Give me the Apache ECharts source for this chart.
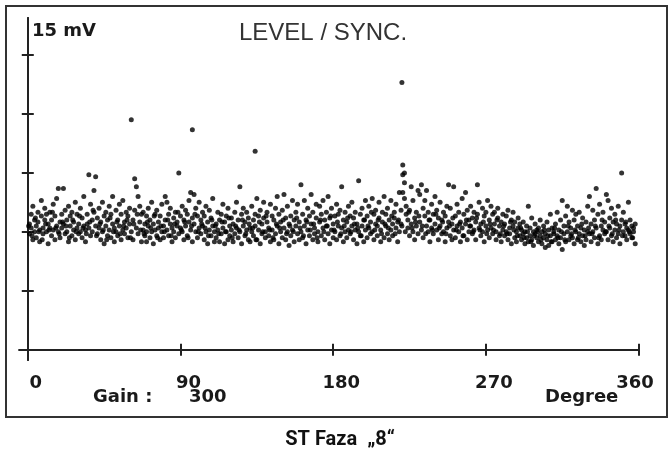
<!DOCTYPE html>
<html><head><meta charset="utf-8">
<script src="https://cdn.jsdelivr.net/npm/echarts@6/dist/echarts.min.js"></script>
<style>html,body{margin:0;padding:0;background:#fff}#c{width:672px;height:455px}</style>
</head><body><div id="c"></div>
<script>
// tick positions
const xTickValues = [0, 90, 180, 270, 360];
const yTickValues = [3, 6, 9, 12, 15];
// pulses: [phase in degrees, level in mV]
const quadrant1 = [
[1,6.4],[1,5.9],[2,6.9],[2,6.2],[3,5.6],[3,7.3],[4,6.6],[4,6.0],[5,6.3],[5,5.7],[6,7.0],[6,6.5],[7,6.1],[7,5.5],[8,6.8],[8,7.6],[9,6.2],[9,5.9],[10,6.6],[10,7.2],
[11,6.0],[11,6.9],[12,5.4],[12,6.4],[13,7.0],[13,6.2],[14,5.8],[14,6.6],[15,7.4],[15,6.1],[16,5.6],[16,6.8],[17,6.3],[17,7.7],[18,8.2],[18,6.0],[19,6.5],[19,5.7],[20,6.9],[20,6.2],
[21,8.2],[21,6.4],[22,5.9],[22,7.1],[23,6.6],[23,6.0],[24,7.3],[24,5.5],[25,6.3],[25,6.8],[26,5.8],[26,7.0],[27,6.1],[27,6.5],[28,5.6],[28,7.5],[29,6.2],[29,6.9],[30,5.9],[30,6.4],
[31,7.2],[31,6.0],[32,6.7],[32,5.7],[33,6.3],[33,7.8],[34,6.1],[34,5.5],[35,6.9],[35,6.4],[36,8.9],[36,6.2],[37,7.4],[37,5.8],[38,6.6],[38,6.0],[39,7.0],[39,8.1],[40,8.8],[40,6.3],
[41,6.7],[41,5.9],[42,7.2],[42,6.2],[43,5.6],[43,6.5],[44,7.5],[44,6.0],[45,6.8],[45,5.4],[46,6.3],[46,7.0],[47,5.8],[47,6.6],[48,7.3],[48,6.1],[49,5.7],[49,6.9],[50,6.4],[50,7.8],
[51,6.2],[51,5.5],[52,7.1],[52,6.0],[53,6.6],[53,5.8],[54,7.4],[54,6.3],[55,6.9],[55,5.6],[56,6.1],[56,7.6],[57,6.5],[57,5.9],[58,7.0],[58,6.2],[59,5.7],[59,6.8],[60,6.4],[60,7.2],
[61,11.7],[61,6.0],[62,6.6],[62,5.6],[63,8.7],[63,7.1],[64,8.3],[64,6.2],[65,7.8],[65,5.9],[66,7.3],[66,6.5],[67,6.9],[67,5.5],[68,6.1],[68,7.0],[69,5.8],[69,6.4],[70,6.8],[70,6.0],[70,5.5],
[71,6.3],[71,7.2],[72,5.7],[72,6.6],[73,6.0],[73,7.5],[74,6.4],[74,5.4],[75,6.9],[75,6.1],[76,5.8],[76,7.1],[77,6.5],[77,6.2],[78,5.6],[78,6.8],[79,7.4],[79,6.0],[80,6.3],[80,5.7],
[81,7.8],[81,6.6],[82,6.1],[82,7.5],[83,5.8],[83,6.9],[84,6.4],[84,7.2],[85,5.5],[85,6.2],[86,6.7],[86,6.0],[87,7.0],[87,5.7],[88,6.3],[88,6.5],[89,9.0],[89,5.9],[90,6.8],[90,6.2]
];
const quadrant2 = [
[91,7.3],[91,6.0],[92,5.6],[92,6.6],[93,7.1],[93,6.3],[94,5.8],[94,6.9],[95,6.5],[95,7.6],[96,8.0],[96,6.1],[97,11.2],[97,6.7],[97,5.5],[98,7.9],[98,6.4],[99,6.0],[99,7.2],[100,5.7],[100,6.8],
[101,7.5],[101,6.2],[102,6.6],[102,5.9],[103,7.0],[103,6.3],[104,5.6],[104,6.8],[105,7.3],[105,6.0],[106,5.4],[106,6.5],[107,7.1],[107,6.1],[108,5.8],[108,6.7],[109,6.3],[109,7.7],[110,5.5],[110,6.0],
[111,6.4],[111,5.7],[112,7.0],[112,6.1],[113,5.5],[113,6.6],[114,6.9],[114,5.9],[115,6.2],[115,7.4],[116,5.4],[116,6.5],[117,6.0],[117,6.8],[118,5.6],[118,7.2],[119,6.3],[119,5.8],[120,6.7],[120,6.1],
[121,5.5],[121,6.4],[122,7.0],[122,5.9],[123,6.2],[123,7.5],[124,5.7],[124,6.6],[125,8.3],[125,6.0],[126,6.9],[126,5.4],[127,6.3],[127,7.2],[128,5.8],[128,6.5],[129,6.1],[129,7.0],[130,5.6],[130,6.7],
[131,6.2],[131,5.5],[132,7.3],[132,6.0],[133,6.6],[133,5.8],[134,10.1],[134,6.9],[134,6.3],[135,7.7],[135,5.6],[136,6.1],[136,6.8],[137,5.4],[137,7.1],[138,6.4],[138,5.9],[139,6.7],[139,7.5],[140,6.0],[140,5.7],
[141,6.5],[141,7.0],[142,5.8],[142,6.2],[143,7.4],[143,5.5],[144,6.8],[144,6.1],[145,5.6],[145,6.6],[146,7.2],[146,5.9],[147,6.3],[147,7.8],[148,5.4],[148,6.9],[149,6.0],[149,6.5],[150,7.1],[150,5.7],
[151,6.2],[151,7.9],[152,5.6],[152,6.7],[153,6.0],[153,7.3],[154,5.3],[154,6.4],[155,6.8],[155,5.8],[156,7.6],[156,6.1],[157,5.5],[157,6.6],[158,7.0],[158,6.3],[159,5.9],[159,7.4],[160,6.5],[160,5.6],
[161,8.4],[161,6.0],[162,6.9],[162,5.7],[163,7.6],[163,6.3],[164,5.4],[164,6.6],[165,7.2],[165,6.1],[166,5.8],[166,6.8],[167,7.9],[167,6.4],[168,5.6],[168,7.0],[169,6.2],[169,5.9],[170,6.7],[170,7.4],
[171,6.0],[171,5.5],[172,7.3],[172,6.5],[173,5.8],[173,6.9],[174,6.2],[174,7.6],[175,5.6],[175,6.6],[176,7.0],[176,6.3],[177,5.9],[177,7.8],[178,6.7],[178,5.4],[179,6.1],[179,7.2],[180,6.4],[180,5.7]
];
const quadrant3 = [
[181,6.8],[181,6.0],[182,7.4],[182,5.6],[183,6.3],[183,6.9],[184,5.8],[184,7.1],[185,8.3],[185,6.2],[186,5.5],[186,6.6],[187,7.0],[187,6.0],[188,5.7],[188,6.5],[189,7.3],[189,6.1],[190,5.9],[190,6.8],
[191,6.3],[191,7.5],[192,5.6],[192,6.7],[193,6.1],[193,7.0],[194,5.4],[194,6.4],[195,8.6],[195,6.0],[196,6.9],[196,5.8],[197,7.2],[197,6.3],[198,5.5],[198,6.6],[199,7.6],[199,6.1],[200,5.7],[200,6.8],
[201,6.2],[201,7.3],[202,5.9],[202,6.5],[203,7.7],[203,6.0],[204,5.6],[204,6.9],[205,6.4],[205,7.1],[206,5.8],[206,6.3],[207,7.5],[207,6.7],[208,5.5],[208,6.1],[209,7.0],[209,6.5],[210,5.7],[210,7.8],
[211,6.3],[211,6.9],[212,5.9],[212,7.2],[213,6.6],[213,5.6],[214,7.6],[214,6.1],[215,6.4],[215,5.8],[216,7.0],[216,6.7],[217,6.2],[217,7.4],[218,5.5],[218,6.5],[219,8.0],[219,6.0],[220,7.1],[220,6.4],
[220.5,13.6],[221,9.4],[221,8.9],[222,9.0],[222,8.5],[221,8.0],[222,7.7],[223,7.3],[223,6.9],[224,6.6],[224,6.2],[225,5.8],[225,7.1],[226,8.3],[226,6.4],[227,6.0],[227,7.6],[228,6.7],[228,5.6],[229,7.0],[229,6.3],[230,8.1],[230,5.9],
[231,7.9],[231,6.5],[232,8.4],[232,6.1],[233,7.2],[233,5.7],[234,6.8],[234,7.6],[235,6.3],[235,8.1],[236,6.0],[236,7.0],[237,6.6],[237,5.5],[238,7.4],[238,6.2],[239,5.9],[239,6.9],[240,7.8],[240,6.4],
[241,6.1],[241,7.1],[242,5.6],[242,6.7],[243,7.5],[243,6.3],[244,5.9],[244,6.6],[245,7.0],[245,6.0],[246,5.5],[246,6.8],[247,7.3],[247,6.2],[248,8.4],[248,6.5],[249,5.8],[249,7.2],[250,6.4],[250,5.6],
[251,8.3],[251,6.1],[252,6.8],[252,5.7],[253,7.4],[253,6.3],[254,6.0],[254,7.0],[255,5.5],[255,6.5],[256,7.7],[256,6.2],[257,5.8],[257,6.9],[258,8.0],[258,6.4],[259,5.6],[259,7.1],[260,6.6],[260,6.0],
[261,6.3],[261,7.3],[262,5.9],[262,6.7],[263,7.0],[263,6.1],[264,5.6],[264,6.5],[265,8.4],[265,6.9],[266,6.2],[266,7.5],[267,5.8],[267,6.4],[268,7.2],[268,6.0],[269,5.5],[269,6.8],[270,6.3],[270,7.0]
];
const quadrant4 = [
[271,7.6],[271,6.1],[272,5.7],[272,6.6],[273,7.3],[273,6.2],[274,5.9],[274,6.9],[275,7.0],[275,6.4],[276,5.6],[276,6.0],[277,6.7],[277,7.2],[278,5.8],[278,6.3],[279,6.5],[279,5.5],[280,6.9],[280,6.1],
[281,6.4],[281,5.8],[282,6.8],[282,6.0],[283,5.6],[283,7.1],[284,6.2],[284,5.9],[285,6.6],[285,5.4],[286,6.3],[286,7.0],[287,5.7],[287,6.5],[288,6.0],[288,5.5],[289,6.7],[289,6.2],[290,5.8],[290,6.4],
[291,5.6],[291,6.1],[292,5.9],[292,6.5],[293,5.4],[293,6.0],[294,5.7],[294,6.3],[295,7.3],[295,5.5],[296,6.2],[296,5.8],[297,6.7],[297,5.6],[298,6.0],[298,5.3],[299,5.9],[299,6.4],[300,5.7],[300,6.1],
[301,5.5],[301,6.2],[302,5.8],[302,6.6],[303,5.4],[303,6.0],[304,5.7],[304,6.3],[305,5.2],[305,5.9],[306,6.5],[306,5.6],[307,6.1],[307,5.3],[308,5.8],[308,6.9],[309,5.5],[309,6.2],[310,5.9],[310,6.0],
[311,5.6],[311,6.4],[312,5.8],[312,7.0],[313,5.4],[313,6.1],[314,5.7],[314,6.6],[315,7.6],[315,5.1],[316,6.3],[316,5.9],[317,5.5],[317,6.8],[318,7.3],[318,6.0],[319,5.6],[319,6.5],[320,5.8],[320,6.2],
[321,7.1],[321,5.7],[322,6.6],[322,5.4],[323,6.0],[323,6.9],[324,5.6],[324,6.3],[325,5.9],[325,7.0],[326,5.5],[326,6.2],[327,6.7],[327,5.8],[328,5.3],[328,6.1],[329,6.5],[329,5.6],[330,6.0],[330,7.3],
[331,7.8],[331,5.9],[332,6.4],[332,5.5],[333,7.1],[333,6.0],[334,5.7],[334,6.6],[335,8.2],[335,6.2],[336,5.4],[336,6.9],[337,5.8],[337,7.4],[338,6.3],[338,5.6],[339,7.0],[339,6.1],[340,5.9],[340,6.5],
[341,7.9],[341,6.0],[342,7.6],[342,5.6],[343,6.7],[343,6.2],[344,7.2],[344,5.8],[345,6.5],[345,5.5],[346,6.9],[346,6.1],[347,5.7],[347,6.4],[348,7.3],[348,5.9],[349,5.4],[349,6.3],[350,9.0],[350,6.6],
[351,6.0],[351,7.0],[352,5.8],[352,6.4],[353,6.2],[353,5.6],[354,7.5],[354,6.1],[355,5.9],[355,6.6],[356,6.3],[356,5.7],[357,6.2],[357,6.0],[358,5.4],[358,6.4]
];
// additional pulses read in the dense core of the band
const coreBand = [
[0.5,6.3],[2.5,5.8],[4.5,6.7],[6.5,6.0],[8.5,5.6],[10.5,6.4],[12.5,6.1],[14.5,7.0],[16.5,6.2],[18.5,5.9],[20.5,6.5],[22.5,6.3],[24.5,5.7],[26.5,6.6],[28.5,6.0],[30.5,6.8],[32.5,6.2],[34.5,5.9],[36.5,6.5],[38.5,7.1],
[40.5,5.8],[42.5,6.4],[44.5,6.1],[46.5,5.6],[48.5,6.7],[50.5,6.0],[52.5,6.5],[54.5,5.9],[56.5,6.3],[58.5,6.6],[60.5,5.7],[62.5,6.4],[64.5,6.9],[66.5,6.1],[68.5,5.9],[70.5,6.5],[72.5,6.2],[74.5,6.8],[76.5,5.7],[78.5,6.3],
[80.5,6.0],[82.5,6.6],[84.5,5.8],[86.5,6.4],[88.5,7.0],[90.5,6.1],[92.5,6.5],[94.5,5.7],[96.5,6.3],[98.5,6.9],[100.5,6.0],[102.5,6.4],[104.5,6.2],[106.5,5.8],[108.5,6.6],[110.5,6.3],[112.5,5.9],[114.5,6.5],[116.5,6.0],[118.5,6.7],
[120.5,5.7],[122.5,6.3],[124.5,6.1],[126.5,6.6],[128.5,5.9],[130.5,6.4],[132.5,6.2],[134.5,5.6],[136.5,6.5],[138.5,6.0],[140.5,6.8],[142.5,6.1],[144.5,5.7],[146.5,6.4],[148.5,6.2],[150.5,6.6],[152.5,5.9],[154.5,6.3],[156.5,6.0],[158.5,6.7],
[160.5,6.2],[162.5,5.8],[164.5,6.5],[166.5,6.1],[168.5,6.4],[170.5,5.7],[172.5,6.6],[174.5,6.0],[176.5,6.3],[178.5,6.8],[180.5,6.1],[182.5,6.5],[184.5,5.9],[186.5,6.3],[188.5,6.7],[190.5,6.0],[192.5,6.4],[194.5,6.2],[196.5,5.8],[198.5,6.6],
[200.5,6.3],[202.5,7.0],[204.5,6.1],[206.5,6.6],[208.5,5.9],[210.5,6.4],[212.5,6.2],[214.5,6.8],[216.5,5.9],[218.5,6.6],[220.5,6.3],[222.5,6.0],[224.5,7.0],[226.5,6.2],[228.5,6.5],[230.5,6.8],[232.5,6.3],[234.5,5.9],[236.5,6.6],[238.5,6.1],
[240.5,6.9],[242.5,6.2],[244.5,6.5],[246.5,5.9],[248.5,6.3],[250.5,6.7],[252.5,6.1],[254.5,6.4],[256.5,5.8],[258.5,6.6],[260.5,6.3],[262.5,6.0],[264.5,6.7],[266.5,6.1],[268.5,6.5],[270.5,5.9],[272.5,6.4],[274.5,6.1],[276.5,6.6],[278.5,5.9],
[280.5,6.3],[282.5,5.9],[284.5,6.5],[286.5,6.1],[288.5,5.8],[290.5,6.2],[292.5,5.7],[294.5,6.0],[296.5,5.5],[298.5,5.8],[300.5,6.0],[302.5,5.6],[304.5,6.1],[306.5,5.8],[308.5,5.5],[310.5,6.2],[312.5,5.7],[314.5,6.0],[316.5,5.6],[318.5,6.3],
[320.5,5.9],[322.5,6.1],[324.5,5.7],[326.5,6.4],[328.5,5.8],[330.5,6.2],[332.5,5.9],[334.5,6.3],[336.5,5.7],[338.5,6.6],[340.5,6.0],[342.5,6.3],[344.5,5.9],[346.5,6.6],[348.5,6.1],[350.5,5.8],[352.5,6.5],[354.5,6.0],[356.5,5.7]
];

const chart = echarts.init(document.getElementById('c'), null, {renderer: 'canvas'});
const axisColor = '#222';
const boldFont = '"DejaVu Sans", sans-serif';
const xBase = {
  type: 'value', min: -5, max: 360,
  splitLine: {show: false},
  axisLine: {onZero: true, lineStyle: {color: axisColor, width: 2}}
};
const yBase = {
  type: 'value', min: -0.52, max: 16.88,
  splitLine: {show: false},
  axisLabel: {show: false},
  axisLine: {onZero: true, lineStyle: {color: axisColor, width: 2}}
};
const tickStyle = {color: axisColor, width: 2};
chart.setOption({
  animation: false,
  backgroundColor: '#fff',
  grid: {left: 19.3, right: 33.4, top: 18, bottom: 95, outerBoundsMode: 'none'},
  xAxis: [
    Object.assign({}, xBase, {
      position: 'bottom',
      axisTick: {customValues: xTickValues, length: 6, lineStyle: tickStyle},
      axisLabel: {
        customValues: xTickValues, margin: 14,
        formatter: v => v === 360 ? '{b|' + v + '}' : '{a|' + v + '}',
        rich: {
          a: {fontFamily: boldFont, fontWeight: 'bold', fontSize: 18, lineHeight: 18, color: '#1a1a1a', padding: [0, 0, 0, 16]},
          b: {fontFamily: boldFont, fontWeight: 'bold', fontSize: 18, lineHeight: 18, color: '#1a1a1a', padding: [0, 7, 0, 0]}
        }
      }
    }),
    Object.assign({}, xBase, {
      position: 'top',
      axisTick: {customValues: xTickValues, length: 6, lineStyle: tickStyle},
      axisLabel: {show: false}
    })
  ],
  yAxis: [
    Object.assign({}, yBase, {position: 'left', axisTick: {customValues: yTickValues, length: 6, lineStyle: tickStyle}}),
    Object.assign({}, yBase, {position: 'right', axisTick: {customValues: yTickValues, length: 6, lineStyle: tickStyle}})
  ],
  graphic: [
    {type: 'rect', shape: {x: 6, y: 6, width: 661, height: 411}, style: {fill: 'none', stroke: '#333', lineWidth: 2}, silent: true},
    {type: 'text', x: 32, y: 31, style: {text: '15 mV', font: 'bold 18px "DejaVu Sans"', fill: '#1a1a1a', verticalAlign: 'middle'}},
    {type: 'text', x: 239, y: 33, style: {text: 'LEVEL / SYNC.', font: '24px "Liberation Sans", Arial', fill: '#333', verticalAlign: 'middle'}},
    {type: 'text', x: 93, y: 397, style: {text: 'Gain :', font: 'bold 18px "DejaVu Sans"', fill: '#1a1a1a', verticalAlign: 'middle'}},
    {type: 'text', x: 189, y: 397, style: {text: '300', font: 'bold 18px "DejaVu Sans"', fill: '#1a1a1a', verticalAlign: 'middle'}},
    {type: 'text', x: 545, y: 397, style: {text: 'Degree', font: 'bold 18px "DejaVu Sans"', fill: '#1a1a1a', verticalAlign: 'middle'}},
    {type: 'text', x: 340, y: 440, style: {text: 'ST Faza  \u201E8\u201C', font: 'bold 20px "Liberation Sans Narrow", "Roboto", sans-serif', fill: '#111', align: 'center', verticalAlign: 'middle'}}
  ],
  series: [{
    type: 'scatter', xAxisIndex: 0, yAxisIndex: 0,
    symbol: 'circle', symbolSize: 5,
    itemStyle: {color: '#000'},
    silent: true,
    data: quadrant1.concat(quadrant2, quadrant3, quadrant4, coreBand)
  }]
});
</script>
</body></html>
